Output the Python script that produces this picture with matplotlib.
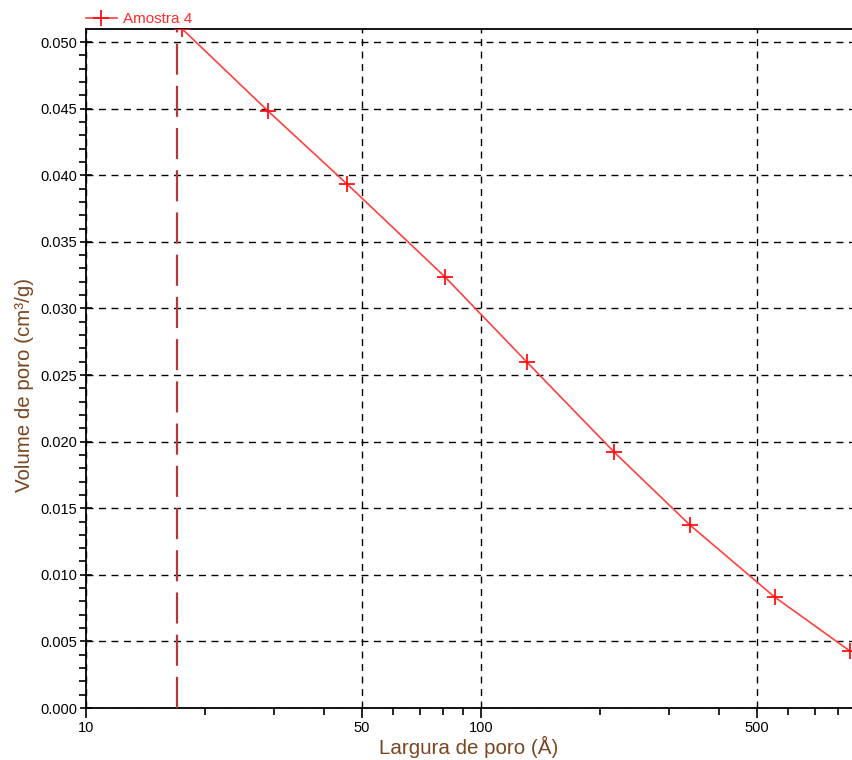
import matplotlib
matplotlib.use("Agg")
import matplotlib.pyplot as plt
from matplotlib.ticker import FixedLocator, FuncFormatter, MultipleLocator, NullFormatter

# Pore width (Å) and cumulative pore volume (cm³/g)
pore_width = [17.5, 28.9, 45.8, 81.1, 130.6, 217.2, 338.0, 554.0, 859.0]
pore_volume = [0.0510, 0.04482, 0.03934, 0.03236, 0.02598, 0.01922, 0.01374, 0.00833, 0.00428]
series_name = "Amostra 4"
cutoff_width = 17.0

x_major = [10, 50, 100, 500]
x_minor = [20, 30, 40, 60, 70, 80, 90, 200, 300, 400, 600, 700, 800]

plt.rcParams['font.family'] = ['Liberation Sans', 'DejaVu Sans']

W, H = 852, 760
fig = plt.figure(figsize=(W / 100, H / 100), dpi=100)
ax = fig.add_axes([86 / W, 52 / H, (852 - 86) / W, (708 - 29) / H])

ax.set_xscale('log')
ax.set_xlim(10, 10 ** (1 + 766 / 395))
ax.set_ylim(0, 0.05098)

line_color = '#ff4040'
ax.plot(pore_width, pore_volume, color=line_color, lw=1.2, marker='+',
        markersize=11, markeredgewidth=1.3, markeredgecolor='#ff1010',
        clip_on=True, zorder=4, label=series_name)

ax.axvline(cutoff_width, color='#b5373d', lw=1.6, dashes=(14, 5), zorder=3)

ax.xaxis.set_major_locator(FixedLocator(x_major))
ax.xaxis.set_minor_locator(FixedLocator(x_minor))
ax.xaxis.set_major_formatter(FuncFormatter(lambda v, p: f"{v:g}"))
ax.xaxis.set_minor_formatter(NullFormatter())
ax.yaxis.set_major_locator(MultipleLocator(0.005))
ax.yaxis.set_minor_locator(MultipleLocator(0.001))
ax.yaxis.set_major_formatter(FuncFormatter(lambda v, p: f"{v:.3f}"))

ax.grid(True, which='major', color='black', lw=1.0, dashes=(5, 4))
ax.set_axisbelow(True)

ax.spines['right'].set_visible(False)
for side in ('left', 'bottom', 'top'):
    ax.spines[side].set_linewidth(1.3)

ax.tick_params(axis='both', which='major', direction='inout', length=9, width=1.2,
               labelsize=10.5, colors='black', pad=2)
ax.tick_params(axis='both', which='minor', direction='out', length=5, width=1.2)
ax.tick_params(axis='x', which='major', direction='out', length=7)

label_color = '#7a4620'
ax.set_xlabel("Largura de poro (Å)", fontsize=14.8, color=label_color, labelpad=1)
ax.set_ylabel("Volume de poro (cm³/g)", fontsize=14.8, color=label_color)
ax.yaxis.set_label_coords(-0.068, 0.476)

leg = ax.legend(loc='lower left', bbox_to_anchor=(0.0, 1.004), frameon=False,
                fontsize=11, handlelength=2.0, handletextpad=0.45,
                borderaxespad=0.0, borderpad=0.0)
for t in leg.get_texts():
    t.set_color('#ff2b2b')

fig.savefig("out.png", dpi=100)
